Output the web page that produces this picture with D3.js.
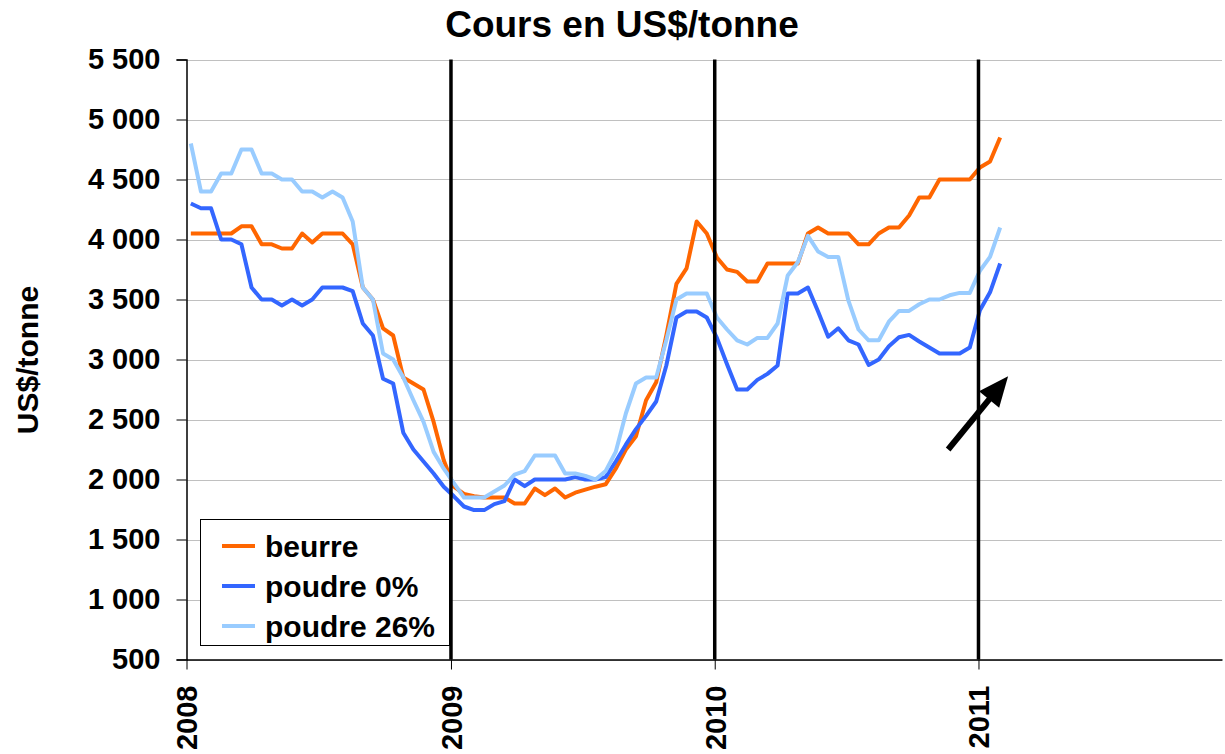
<!DOCTYPE html>
<html>
<head>
<meta charset="utf-8">
<script src="https://cdn.jsdelivr.net/npm/d3@7"></script>
<style>
  html, body { margin: 0; padding: 0; background: #fff; }
  svg { display: block; font-family: "Liberation Sans", Arial, Helvetica, sans-serif; font-weight: bold; }
</style>
</head>
<body>
<svg id="chart" width="1225" height="754"></svg>
<script>
// Biweekly quotations, first one in the second week of January 2008
const startDate = new Date(2008, 0, 7);
const stepDays = 14;

const beurre = [
  4050, 4050, 4050, 4050, 4050, 4110, 4110, 3960, 3960, 3925, 3925, 4050, 3975, 4050, 4050, 4050,
  3960, 3600, 3500, 3260, 3200, 2850, 2800, 2750, 2480, 2160, 1940, 1880, 1860, 1850, 1850, 1850,
  1800, 1800, 1925, 1870, 1925, 1850, 1890, 1915, 1940, 1960, 2090, 2250, 2360, 2660, 2810, 3200,
  3630, 3760, 4150, 4050, 3850, 3750, 3730, 3650, 3650, 3800, 3800, 3800, 3800, 4050, 4100, 4050,
  4050, 4050, 3960, 3960, 4050, 4100, 4100, 4200, 4350, 4350, 4500, 4500, 4500, 4500, 4600, 4650,
  4850
];
const poudre0 = [
  4300, 4260, 4260, 4000, 4000, 3960, 3600, 3500, 3500, 3450, 3500, 3450, 3500, 3600, 3600, 3600,
  3570, 3300, 3200, 2840, 2800, 2390, 2250, 2150, 2050, 1940, 1860, 1775, 1745, 1745, 1795, 1820,
  2000, 1945, 2000, 2000, 2000, 2000, 2020, 2000, 2000, 2020, 2150, 2290, 2420, 2530, 2650, 2950,
  3350, 3400, 3400, 3350, 3180, 2960, 2750, 2750, 2830, 2880, 2950, 3550, 3550, 3600, 3400, 3190,
  3260, 3160, 3125, 2955, 3000, 3110, 3185, 3205, 3150, 3100, 3050, 3050, 3050, 3100, 3410, 3560,
  3800
];
const poudre26 = [
  4800, 4400, 4400, 4550, 4550, 4750, 4750, 4550, 4550, 4500, 4500, 4400, 4400, 4350, 4400, 4350,
  4150, 3600, 3500, 3050, 3000, 2850, 2660, 2480, 2230, 2090, 1970, 1850, 1850, 1850, 1900, 1950,
  2040, 2070, 2200, 2200, 2200, 2050, 2050, 2030, 2000, 2070, 2230, 2550, 2800, 2850, 2850, 3160,
  3500, 3550, 3550, 3550, 3350, 3250, 3160, 3125, 3180, 3180, 3300, 3700, 3810, 4030, 3900, 3855,
  3855, 3490, 3250, 3160, 3160, 3315, 3405, 3405, 3460, 3500, 3500, 3535, 3555, 3555, 3740, 3855,
  4100
];

const seriesNames = ["beurre", "poudre 0%", "poudre 26%"];
const seriesColors = ["#FF6600", "#3366FF", "#99CCFF"];
const yTicks = [500, 1000, 1500, 2000, 2500, 3000, 3500, 4000, 4500, 5000, 5500];
const yearTicks = [2008, 2009, 2010, 2011];
const yearMarkers = [2009, 2010, 2011];

// Annotation arrow pointing at the early-2011 rise
const arrowFrom = { date: new Date(2010, 10, 20), value: 2250 };
const arrowTo = { date: new Date(2011, 1, 11), value: 2860 };

const dates = beurre.map((_, i) => d3.timeDay.offset(startDate, i * stepDays));
const series = [beurre, poudre0, poudre26];

const svg = d3.select("#chart");
const plotLeft = 186.5, plotRight = 1222, plotTop = 59.5, plotBottom = 659.5;

const x = d3.scaleTime()
  .domain([new Date(2008, 0, 1), new Date(2011, 11, 4)])
  .range([plotLeft, plotRight]);
const y = d3.scaleLinear().domain([500, 5500]).range([plotBottom, plotTop]);

const fr = d3.formatLocale({ decimal: ",", thousands: " ", grouping: [3], currency: ["", " $"] });
const fmt = fr.format(",");

// Horizontal gridlines
svg.append("g")
  .selectAll("line")
  .data(yTicks)
  .join("line")
  .attr("x1", plotLeft).attr("x2", plotRight)
  .attr("y1", d => Math.round(y(d)) + 0.5).attr("y2", d => Math.round(y(d)) + 0.5)
  .attr("stroke", "#c0c0c0").attr("stroke-width", 1);

// Price lines
const line = d3.line()
  .x((d, i) => x(dates[i]))
  .y(d => y(d));

svg.append("g")
  .selectAll("path")
  .data(series)
  .join("path")
  .attr("d", line)
  .attr("fill", "none")
  .attr("stroke", (d, i) => seriesColors[i])
  .attr("stroke-width", 4)
  .attr("stroke-linejoin", "round");

// Year separators
svg.append("g")
  .selectAll("line")
  .data(yearMarkers)
  .join("line")
  .attr("x1", d => x(new Date(d, 0, 1))).attr("x2", d => x(new Date(d, 0, 1)))
  .attr("y1", plotTop).attr("y2", plotBottom)
  .attr("stroke", "#000").attr("stroke-width", 3.5);

// Y axis
const yAxis = svg.append("g")
  .attr("transform", `translate(${plotLeft},0)`)
  .call(d3.axisLeft(y).tickValues(yTicks).tickFormat(fmt).tickSize(10).tickPadding(16));
yAxis.select(".domain").attr("stroke", "#000").attr("stroke-width", 1.5);
yAxis.selectAll(".tick line").attr("stroke", "#000").attr("stroke-width", 1);
yAxis.selectAll(".tick text")
  .attr("fill", "#000")
  .style("font-size", "29px")
  .style("font-family", "'Liberation Sans', Arial, sans-serif")
  .style("font-weight", "bold");

// X axis
const xAxis = svg.append("g")
  .attr("transform", `translate(0,${plotBottom})`)
  .call(d3.axisBottom(x)
    .tickValues(yearTicks.map(yr => new Date(yr, 0, 1)))
    .tickFormat(d3.timeFormat("%Y"))
    .tickSize(10)
    .tickSizeOuter(0));
xAxis.select(".domain").attr("stroke", "#000").attr("stroke-width", 1.5);
xAxis.selectAll(".tick line").attr("stroke", "#000").attr("stroke-width", 1);
xAxis.selectAll(".tick text")
  .attr("fill", "#000")
  .attr("transform", "rotate(-90)")
  .attr("x", -26).attr("y", 0).attr("dy", "0.36em")
  .style("text-anchor", "end")
  .style("font-size", "29px")
  .style("font-family", "'Liberation Sans', Arial, sans-serif")
  .style("font-weight", "bold");

// Title and axis label
svg.append("text")
  .attr("x", 622).attr("y", 37)
  .attr("text-anchor", "middle")
  .style("font-size", "37px")
  .text("Cours en US$/tonne");

svg.append("text")
  .attr("transform", "translate(27,360) rotate(-90)")
  .attr("text-anchor", "middle")
  .attr("dy", "0.36em")
  .style("font-size", "30px")
  .text("US$/tonne");

// Arrow annotation
const p0 = [x(arrowFrom.date), y(arrowFrom.value)];
const p1 = [x(arrowTo.date), y(arrowTo.value)];
const len = Math.hypot(p1[0] - p0[0], p1[1] - p0[1]);
const ux = (p1[0] - p0[0]) / len, uy = (p1[1] - p0[1]) / len;
const headLen = 30, headHalf = 13;
const base = [p1[0] - ux * headLen, p1[1] - uy * headLen];
svg.append("line")
  .attr("x1", p0[0]).attr("y1", p0[1])
  .attr("x2", p1[0] - ux * (headLen - 4)).attr("y2", p1[1] - uy * (headLen - 4))
  .attr("stroke", "#000").attr("stroke-width", 6);
svg.append("path")
  .attr("d", `M${p1[0]},${p1[1]} L${base[0] - uy * headHalf},${base[1] + ux * headHalf} L${base[0] + uy * headHalf},${base[1] - ux * headHalf} Z`)
  .attr("fill", "#000");

// Legend
const legend = svg.append("g");
legend.append("rect")
  .attr("x", 200.5).attr("y", 519.5).attr("width", 249).attr("height", 126)
  .attr("fill", "#fff").attr("stroke", "#000").attr("stroke-width", 1);
const items = legend.selectAll("g.item")
  .data(seriesNames)
  .join("g")
  .attr("class", "item")
  .attr("transform", (d, i) => `translate(0,${546 + i * 40})`);
items.append("line")
  .attr("x1", 222).attr("x2", 255)
  .attr("stroke", (d, i) => seriesColors[i]).attr("stroke-width", 4);
items.append("text")
  .attr("x", 265).attr("dy", "0.36em")
  .style("font-size", "30px")
  .text(d => d);
</script>
</body>
</html>
